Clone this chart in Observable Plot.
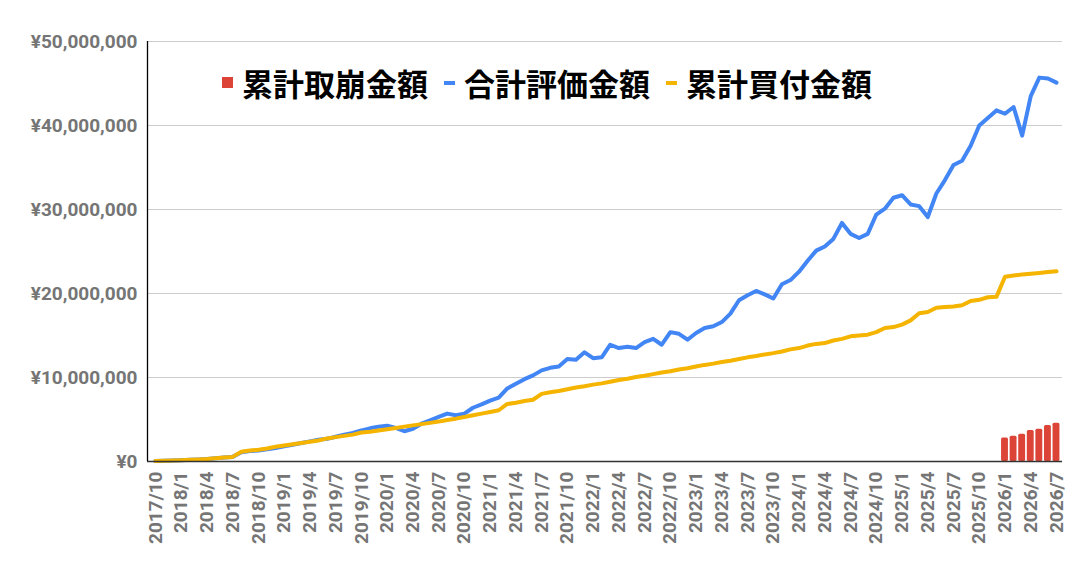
<!DOCTYPE html>
<html><head><meta charset="utf-8">
<script src="https://cdn.jsdelivr.net/npm/d3@7"></script>
<script src="https://cdn.jsdelivr.net/npm/@observablehq/plot@0.6"></script>
<style>
body{margin:0;background:#fff;}
#wrap{position:relative;width:1091px;height:574px;}
#legend{position:absolute;left:222px;top:62px;height:41px;display:flex;align-items:center;font-family:"Noto Sans CJK JP";font-weight:bold;font-size:31px;color:#000;white-space:nowrap;}
.sw{display:inline-block;flex:none;}
</style></head><body><div id="wrap"><div id="legend"></div></div>
<script>
// month categories 2017/10 .. 2026/7
const months = [];
for (let y = 2017, m = 10; ; m++) {
  if (m > 12) { m = 1; y++; }
  if (y === 2026 && m > 7) break;
  months.push(y + "/" + m);
}
// 合計評価金額 (million yen)
const valuation = [
  0.05,0.08,0.12,0.16,0.2,0.24,0.3,0.4,0.48,0.55,
  1.1,1.25,1.3,1.45,1.6,1.8,2.0,2.2,2.4,2.6,
  2.7,2.95,3.2,3.4,3.7,3.95,4.15,4.25,4.0,3.6,
  3.9,4.5,4.9,5.3,5.7,5.5,5.7,6.4,6.8,7.25,
  7.6,8.7,9.25,9.8,10.25,10.85,11.15,11.3,12.2,12.1,
  13.0,12.3,12.4,13.9,13.5,13.65,13.5,14.2,14.6,13.9,
  15.4,15.2,14.5,15.3,15.9,16.1,16.6,17.6,19.2,19.8,
  20.3,19.9,19.4,21.1,21.6,22.6,23.9,25.1,25.6,26.5,
  28.4,27.1,26.6,27.1,29.4,30.1,31.4,31.7,30.6,30.4,
  29.1,31.9,33.5,35.3,35.8,37.6,40.0,40.9,41.8,41.4,
  42.2,38.8,43.5,45.7,45.6,45.1
];
// 累計買付金額 (million yen)
const purchases = [
  0.05,0.08,0.12,0.16,0.2,0.24,0.3,0.4,0.48,0.55,
  1.15,1.3,1.4,1.55,1.75,1.9,2.05,2.2,2.35,2.5,
  2.75,2.9,3.05,3.2,3.45,3.55,3.7,3.85,4.0,4.15,
  4.3,4.45,4.6,4.75,4.95,5.1,5.3,5.5,5.7,5.9,
  6.1,6.85,7.0,7.2,7.35,8.05,8.25,8.4,8.6,8.8,
  8.95,9.15,9.3,9.5,9.7,9.85,10.05,10.2,10.4,10.6,
  10.75,10.95,11.1,11.3,11.5,11.65,11.85,12.0,12.2,12.4,
  12.55,12.75,12.9,13.1,13.35,13.5,13.8,14.0,14.1,14.4,
  14.6,14.9,15.0,15.1,15.4,15.9,16.0,16.3,16.8,17.65,
  17.8,18.3,18.4,18.45,18.6,19.1,19.25,19.55,19.6,22.0,
  22.15,22.25,22.35,22.45,22.55,22.65
];
// 累計取崩金額 (million yen)
const withdrawalMonths = ["2026/1","2026/2","2026/3","2026/4","2026/5","2026/6","2026/7"];
const withdrawals = [2.8,3.0,3.25,3.7,3.85,4.3,4.55];

const yTicks = [0,10,20,30,40,50];
const xTicks = d3.range(0, months.length, 3);
const xDomain = [-0.93, months.length - 1 + 0.7];

const lineData = months.map((m, i) => ({i, m, val: valuation[i], buy: purchases[i]}));
const barData = withdrawalMonths.map((m, k) => ({i: months.indexOf(m), v: withdrawals[k]}));
const yen = d => "¥" + d3.format(",")(d * 1e6);

const chart = Plot.plot({
  width: 1091, height: 574,
  marginLeft: 147, marginRight: 29, marginTop: 41, marginBottom: 113,
  style: {fontFamily: "Roboto", background: "#fff"},
  x: {type: "linear", domain: xDomain, label: null},
  y: {domain: [0, 50], label: null},
  marks: [
    Plot.gridY(yTicks.filter(d => d > 0), {stroke: "#cccccc", strokeOpacity: 1, strokeWidth: 1}),
    Plot.axisY({ticks: yTicks, tickFormat: yen, tickSize: 0, tickPadding: 10, fontSize: 19, fontWeight: "bold", fill: "#757575", label: null}),
    Plot.axisX({ticks: xTicks, tickFormat: i => months[i], tickRotate: -90, tickSize: 0, tickPadding: 10, fontSize: 19, fontWeight: "bold", fill: "#757575", label: null}),
    Plot.rectY(barData, {x1: d => d.i - 0.4, x2: d => d.i + 0.4, y: "v", fill: "#DB4437", rx: 1.5}),
    Plot.line(lineData, {x: "i", y: "val", stroke: "#4285F4", strokeWidth: 4, strokeLinejoin: "round"}),
    Plot.line(lineData, {x: "i", y: "buy", stroke: "#F4B400", strokeWidth: 4, strokeLinejoin: "round"}),
    Plot.ruleY([0], {stroke: "#333", strokeWidth: 1.3}),
    Plot.ruleX([xDomain[0]], {y1: 0, y2: 50, stroke: "#000", strokeWidth: 1.3})
  ]
});
document.getElementById("wrap").prepend(chart);

const legend = document.getElementById("legend");
legend.innerHTML =
  '<span class="sw" style="width:11px;height:11px;background:#DB4437;margin-right:9px"></span>累計取崩金額' +
  '<span class="sw" style="width:11px;height:4px;background:#4285F4;margin:0 9px 0 16px"></span>合計評価金額' +
  '<span class="sw" style="width:11px;height:4px;background:#F4B400;margin:0 9px 0 16px"></span>累計買付金額';
</script></body></html>
